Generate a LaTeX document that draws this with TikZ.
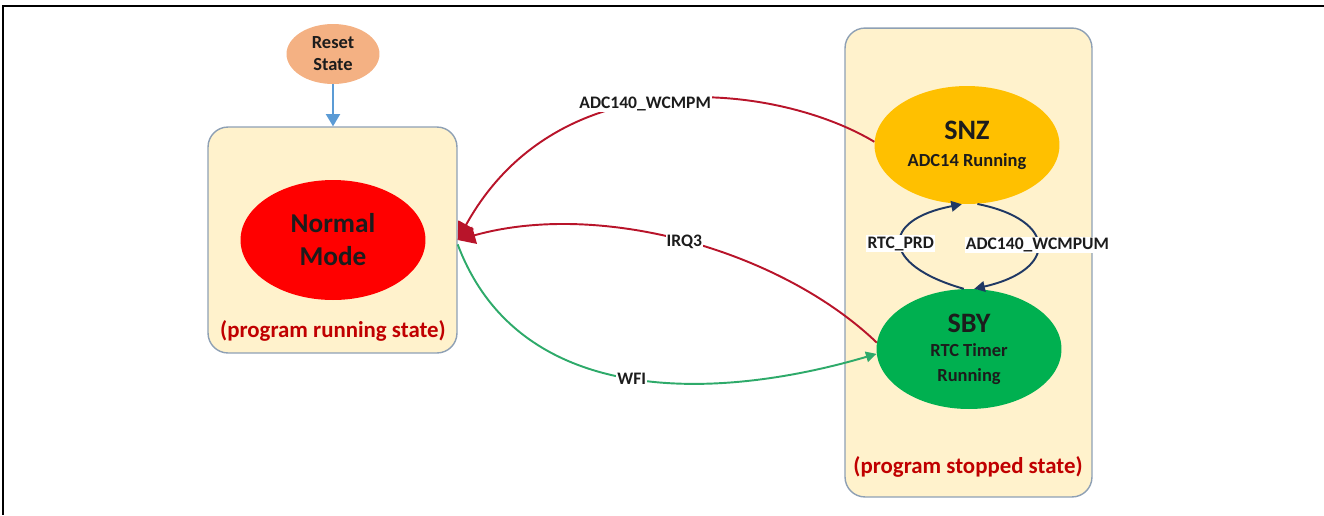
\documentclass[tikz,border=0pt]{standalone}
\usepackage{fontspec}
\setmainfont{Carlito}
\usetikzlibrary{shapes.geometric,arrows.meta}

\definecolor{boxFill}{HTML}{FFF2CC}
\definecolor{boxLine}{HTML}{8EA0B4}
\definecolor{resetFill}{HTML}{F4B183}
\definecolor{snzFill}{HTML}{FFC000}
\definecolor{sbyFill}{HTML}{00B050}
\definecolor{wakeRed}{HTML}{B8142A}
\definecolor{sleepGreen}{HTML}{2EAA6A}
\definecolor{loopBlue}{HTML}{1F3864}
\definecolor{resetBlue}{HTML}{5B9BD5}
\definecolor{noteRed}{HTML}{C00000}
\definecolor{textDark}{HTML}{1C1C1C}

\begin{document}
\begin{tikzpicture}
[x=0.02cm,y=-0.02cm,
 every node/.style={font=\bfseries,text=textDark,inner sep=1pt},
 stateBox/.style={draw=boxLine,fill=boxFill,rounded corners=0.4cm,line width=0.8pt},
 stateNode/.style={ellipse,minimum width=3.7cm,minimum height=2.4cm,align=center},
 noteText/.style={text=noteRed,font=\bfseries\fontsize{13}{15}\selectfont},
 edgeLabel/.style={fill=white,inner sep=0.6pt,font=\bfseries\fontsize{10}{12}\selectfont},
 lineDecorate/.style={line width=1.1pt}]
\useasboundingbox (0,0) rectangle (1324,515);
\draw[line width=1.15pt] (1324,6) -- (3,6) -- (3,515);

% the two state groups
\node[stateBox,minimum width=4.98cm,minimum height=4.52cm] (runBox) at (332.5,240) {};
\node[stateBox,minimum width=4.94cm,minimum height=9.38cm] (stopBox) at (968.5,262.5) {};
\node[noteText] (runNote) at (333,331) {(program running state)};
\node[noteText] (stopNote) at (968,467) {(program stopped state)};

% states
\node[ellipse,fill=resetFill,minimum width=1.86cm,minimum height=1.2cm,align=center,
  font=\bfseries\fontsize{10.5}{12.5}\selectfont] (reset) at (333,54) {Reset\\State};
\node[stateNode,fill=red,font=\bfseries\fontsize{15.5}{18.8}\selectfont] (normal) at (333,240)
  {Normal\\Mode};
\node[stateNode,fill=snzFill,minimum height=2.36cm,font=\bfseries\fontsize{10.5}{15.4}\selectfont]
  (snz) at (967,145) {{\fontsize{16}{15.4}\selectfont SNZ}\\ADC14 Running};
\node[stateNode,fill=sbyFill,font=\bfseries\fontsize{10.5}{14}\selectfont]
  (sby) at (969,349) {{\fontsize{16}{14}\selectfont SBY}\\RTC Timer\\Running};

% transitions
\draw[resetBlue,line width=1.1pt,-{Triangle[length=7pt,width=8pt]}]
  (reset.south) -- (reset.south |- runBox.north);
\draw[lineDecorate,wakeRed,-{Triangle[length=10pt,width=10pt]}]
  (snz.178) .. controls (780,85) and (560,55) .. node[edgeLabel,pos=0.55]{ADC140\_WCMPM} (runBox.east);
\draw[lineDecorate,wakeRed,-{Triangle[length=10pt,width=10pt]}]
  (sby.176) .. controls (780,250) and (600,200) .. node[edgeLabel,pos=0.5]{IRQ3} (runBox.east);
\draw[lineDecorate,sleepGreen,-{Triangle[length=6pt,width=6pt]}]
  (runBox.-2) .. controls (520,410) and (720,400) .. node[edgeLabel,pos=0.5]{WFI} (sby.183);
\draw[lineDecorate,loopBlue,-{Triangle[length=6pt,width=6pt]}]
  (sby.95) .. controls (880,265) and (880,220) .. node[edgeLabel]{RTC\_PRD} (snz.-95);
\draw[lineDecorate,loopBlue,-{Triangle[length=6pt,width=6pt]}]
  (snz.-80) .. controls (1058,220) and (1058,270) .. node[edgeLabel]{ADC140\_WCMPUM} (sby.85);
\end{tikzpicture}
\end{document}
